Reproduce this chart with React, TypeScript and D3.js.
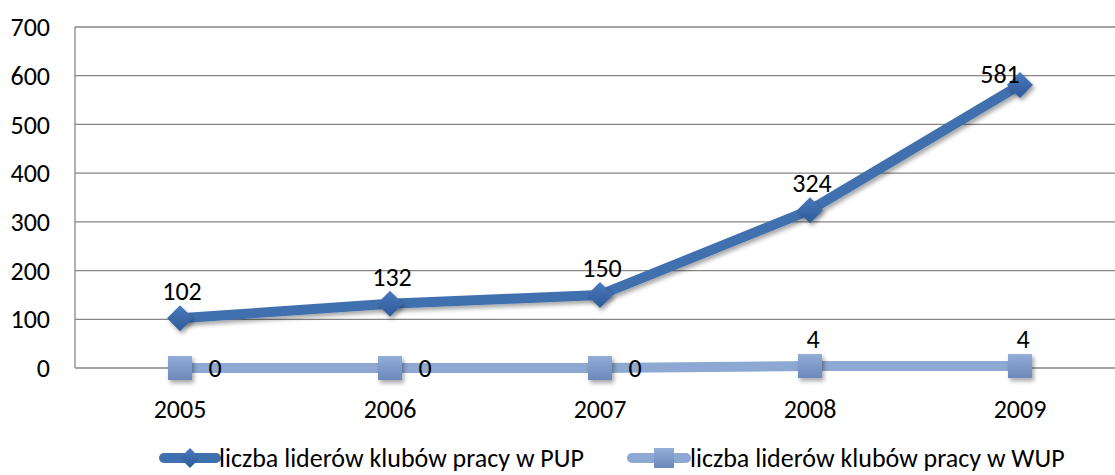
import React from 'react';
import * as d3 from 'd3';

const years = ['2005', '2006', '2007', '2008', '2009'];
const pup = [102, 132, 150, 324, 581];
const wup = [0, 0, 0, 4, 4];
const yTicks = [0, 100, 200, 300, 400, 500, 600, 700];
const seriesNames = ['liczba liderów klubów pracy w PUP', 'liczba liderów klubów pracy w WUP'];

const FONT = "Carlito, 'Open Sans', 'Noto Sans', sans-serif";
const FS = 26;

const App = () => {
    const W = 1115, H = 475;
    const left = 75, right = 1125, top = 27, bottom = 368;

    const x = d3.scaleBand().domain(years).range([left, right]);
    const y = d3.scaleLinear().domain([0, 700]).range([bottom, top]);
    const cx = (d: string) => (x(d) as number) + x.bandwidth() / 2;

    const line = d3.line<number>()
        .x((_, i) => cx(years[i]))
        .y(d => y(d));

    const pupColor = '#4070AE';
    const wupColor = '#8DA8D2';

    const diamond = (px: number, py: number, r: number) =>
        `M${px},${py - r}L${px + r},${py}L${px},${py + r}L${px - r},${py}Z`;

    // label offsets [dx, dy] per point
    const pupLabelPos = pup.map((_, i) => (i === 4 ? [-20, -2] : [2, -18]));
    const wupLabelPos = wup.map(d => (d === 0 ? [35, 9] : [3, -18]));

    const legY = 458;

    return (
        <svg width={W} height={H} style={{ position: 'absolute', left: 0, top: 0, fontFamily: FONT }}>
            <defs>
                <filter id="shadow" x="-50%" y="-50%" width="200%" height="200%">
                    <feDropShadow dx="2" dy="3" stdDeviation="2" floodColor="#000" floodOpacity="0.35" />
                </filter>
                <linearGradient id="gPup" x1="0" y1="0" x2="0" y2="1">
                    <stop offset="0" stopColor="#4A79BC" />
                    <stop offset="1" stopColor="#2F5A98" />
                </linearGradient>
                <linearGradient id="gWup" x1="0" y1="0" x2="0" y2="1">
                    <stop offset="0" stopColor="#92ADD8" />
                    <stop offset="1" stopColor="#6C88BA" />
                </linearGradient>
            </defs>

            {yTicks.map(t => (
                <g key={t}>
                    <line x1={left} x2={W} y1={y(t)} y2={y(t)} stroke="#868686" strokeWidth={1.3} />
                    <text x={50} y={y(t)} dy="0.35em" textAnchor="end" fontSize={FS} fill="#000">{t}</text>
                </g>
            ))}
            <line x1={left} x2={left} y1={top} y2={bottom} stroke="#868686" strokeWidth={1.3} />

            {years.map(yr => (
                <text key={yr} x={cx(yr)} y={418} textAnchor="middle" fontSize={FS} fill="#000">{yr}</text>
            ))}

            {/* PUP series */}
            <path d={line(pup) || ''} fill="none" stroke={pupColor} strokeWidth={10} strokeLinejoin="round" filter="url(#shadow)" />
            {pup.map((d, i) => (
                <path key={i} d={diamond(cx(years[i]), y(d), 13)} fill="url(#gPup)" filter="url(#shadow)" />
            ))}

            {/* WUP series */}
            <path d={line(wup) || ''} fill="none" stroke={wupColor} strokeWidth={10} strokeLinejoin="round" />
            {wup.map((d, i) => (
                <rect key={i} x={cx(years[i]) - 12} y={y(d) - 12} width={24} height={24}
                    fill="url(#gWup)" filter="url(#shadow)" />
            ))}

            {pup.map((d, i) => (
                <text key={'pl' + i} x={cx(years[i]) + pupLabelPos[i][0]} y={y(d) + pupLabelPos[i][1]}
                    textAnchor="middle" fontSize={FS} fill="#000">{d}</text>
            ))}
            {wup.map((d, i) => (
                <text key={'wl' + i} x={cx(years[i]) + wupLabelPos[i][0]} y={y(d) + wupLabelPos[i][1]}
                    textAnchor="middle" fontSize={FS} fill="#000">{d}</text>
            ))}

            {/* legend */}
            <g>
                <line x1={164} x2={216} y1={legY} y2={legY} stroke={pupColor} strokeWidth={10} strokeLinecap="round" />
                <path d={diamond(190, legY, 10)} fill="url(#gPup)" />
                <text x={219} y={legY} dy="0.35em" fontSize={FS} fill="#000">{seriesNames[0]}</text>

                <line x1={632} x2={686} y1={legY} y2={legY} stroke={wupColor} strokeWidth={10} strokeLinecap="round" />
                <rect x={654} y={legY - 10} width={20} height={20} fill="url(#gWup)" />
                <text x={690} y={legY} dy="0.35em" fontSize={FS} fill="#000">{seriesNames[1]}</text>
            </g>
        </svg>
    );
};

export default App;
